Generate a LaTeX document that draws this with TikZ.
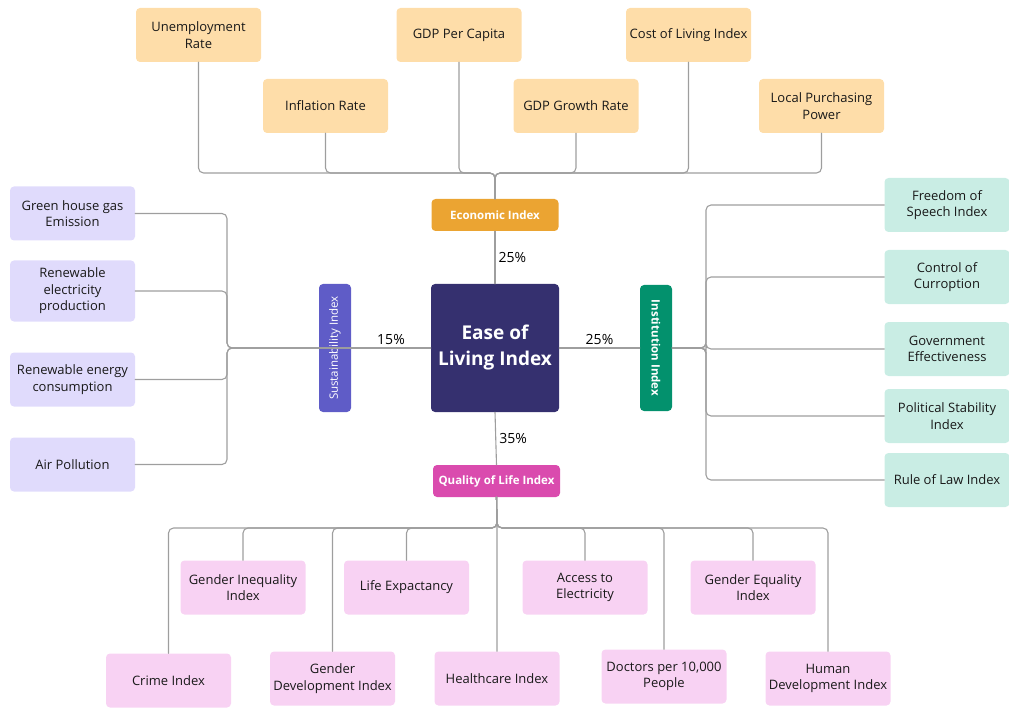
\documentclass[tikz,border=0pt]{standalone}
\usepackage{fontspec}
\setmainfont{Open Sans}
\definecolor{ecolight}{HTML}{FEDDA9}
\definecolor{ecodark}{HTML}{EBA432}
\definecolor{suslight}{HTML}{E0DBFC}
\definecolor{susdark}{HTML}{5F5CC7}
\definecolor{instlight}{HTML}{C9EDE4}
\definecolor{instdark}{HTML}{03916D}
\definecolor{quallight}{HTML}{F8D2F3}
\definecolor{qualdark}{HTML}{DA4BAE}
\definecolor{coredark}{HTML}{35306F}
\definecolor{linkgray}{HTML}{9E9E9E}
\begin{document}
\begin{tikzpicture}[x=1pt, y=-1pt, line join=round, line cap=round,
		leaf/.style={rounded corners=4pt, minimum width=125pt, minimum height=54pt, inner sep=2pt, align=center, text=black!90, font=\fontsize{13}{16.5}\selectfont},
		hub/.style={rounded corners=4pt, minimum width=127pt, minimum height=32pt, inner sep=0pt, text=white, font=\fontsize{11.5}{14}\selectfont\bfseries},
		link/.style={draw=linkgray, line width=1.1pt, rounded corners=5pt},
		pct/.style={font=\fontsize{14}{16}\selectfont, text=black, inner sep=3pt}]
	\useasboundingbox (0,0) rectangle (1009,719);
	% economic
	\node[leaf, fill=ecolight] (unemp) at (198.5,35) {Unemployment\\Rate};
	\node[leaf, fill=ecolight] (gdppc) at (459,35) {GDP Per Capita};
	\node[leaf, fill=ecolight] (cost) at (688.5,35) {Cost of Living Index};
	\node[leaf, fill=ecolight] (infl) at (325.5,106) {Inflation Rate};
	\node[leaf, fill=ecolight] (gdpgr) at (576,106) {GDP Growth Rate};
	\node[leaf, fill=ecolight] (lpp) at (821.5,106) {Local Purchasing\\Power};
	% sustainability
	\node[leaf, fill=suslight] (ghg) at (72.5,213.5) {Green house gas\\Emission};
	\node[leaf, fill=suslight, minimum height=61pt] (rep) at (72.5,291) {Renewable\\electricity\\production};
	\node[leaf, fill=suslight] (rec) at (72.5,379.5) {Renewable energy\\consumption};
	\node[leaf, fill=suslight] (air) at (72.5,464.5) {Air Pollution};
	% institution
	\node[leaf, fill=instlight] (free) at (947,205) {Freedom of\\Speech Index};
	\node[leaf, fill=instlight] (corr) at (947,277) {Control of\\Curroption};
	\node[leaf, fill=instlight] (gov) at (947,349) {Government\\Effectiveness};
	\node[leaf, fill=instlight] (pol) at (947,416) {Political Stability\\Index};
	\node[leaf, fill=instlight] (law) at (947,480) {Rule of Law Index};
	% quality of life
	\node[leaf, fill=quallight] (gii) at (243,587.5) {Gender Inequality\\Index};
	\node[leaf, fill=quallight] (life) at (406.5,587.5) {Life Expactancy};
	\node[leaf, fill=quallight] (elec) at (585,587.5) {Access to\\Electricity};
	\node[leaf, fill=quallight] (gei) at (753,587.5) {Gender Equality\\Index};
	\node[leaf, fill=quallight] (crime) at (168.5,680.5) {Crime Index};
	\node[leaf, fill=quallight] (gdi) at (332.5,678.5) {Gender\\Development Index};
	\node[leaf, fill=quallight] (health) at (497,678.5) {Healthcare Index};
	\node[leaf, fill=quallight] (doc) at (664,676.5) {Doctors per 10,000\\People};
	\node[leaf, fill=quallight] (hdi) at (828,678.5) {Human\\Development Index};
	% hubs
	\node[hub, fill=coredark, minimum width=128pt, minimum height=128pt, align=center, font=\fontsize{19}{26}\selectfont\bfseries] (core) at (495,348) {Ease of\\Living Index};
	\node[hub, fill=ecodark] (econ) at (495,215) {Economic Index};
	\node[hub, fill=qualdark] (qual) at (496.5,481) {Quality of Life Index};
	\node[hub, fill=susdark, rotate=90, minimum width=128pt, font=\fontsize{11.5}{14}\selectfont] (sust) at (335,348) {Sustainability Index};
	\node[hub, fill=instdark, rotate=-90, minimum width=126pt] (inst) at (656,348) {Institution Index};
	\coordinate (ebus) at (495,173);
	\coordinate (sbus) at (227,348);
	\coordinate (ibus) at (706,348);
	\coordinate (qbus) at (497,528);
	\foreach \n in {unemp,gdppc,cost,infl,gdpgr,lpp}
		\draw[link] (\n.south) |- (ebus) -- (econ.north);
	\foreach \n in {ghg,rep,rec,air}
		\draw[link] (\n.east) -| (sbus) -- (sust.south);
	\foreach \n in {free,corr,gov,pol,law}
		\draw[link] (inst.north) -- (ibus) |- (\n.west);
	\foreach \n in {gii,life,elec,gei,crime,gdi,health,doc,hdi}
		\draw[link] (qual.south) -- (qbus) -| (\n.north);
	\draw[link] (econ.south) -- node[pct, right]{25\%} (core.north);
	\draw[link] (core.west) -- node[pct, above]{15\%} (sust.south);
	\draw[link] (core.east) -- node[pct, above]{25\%} (inst.south);
	\draw[link] (core.south) -- node[pct, right]{35\%} (qual.north);
\end{tikzpicture}
\end{document}
